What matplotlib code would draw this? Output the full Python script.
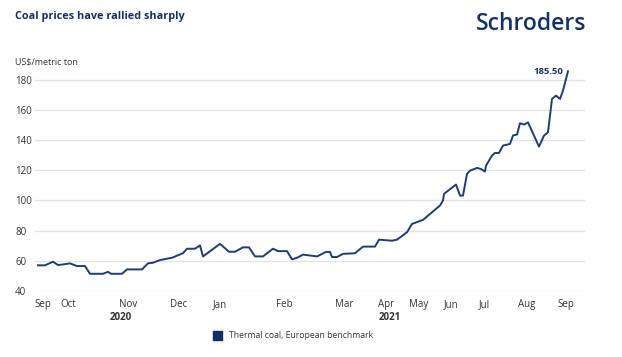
import matplotlib
matplotlib.use('Agg')
import matplotlib.pyplot as plt
from matplotlib.patches import Rectangle

# precio del carbon termico (indice europeo), x en semanas desde inicio sep 2020
semanas = [0.0, 0.7, 1.5, 2.0, 2.5, 3.2, 3.9, 4.7, 5.2, 6.5, 7.0, 7.3, 8.4, 8.9,
           10.4, 11.0, 11.5, 12.2, 12.9, 13.4, 13.9, 14.5, 14.9, 15.7, 16.2, 16.5,
           18.2, 19.1, 19.7, 20.5, 21.1, 21.7, 22.5, 23.5, 24.0, 24.9, 25.4, 25.9,
           26.5, 27.9, 28.8, 29.2, 29.4, 29.9, 30.5, 31.7, 32.5, 33.7, 34.1, 35.4,
           35.9, 36.9, 37.4, 38.5, 39.2, 40.2, 40.5, 40.6, 41.8, 42.2, 42.5, 42.9,
           43.2, 43.9, 44.3, 44.7, 44.8, 45.4, 45.7, 46.1, 46.5, 47.2, 47.5, 47.9,
           48.2, 48.6, 49.0, 50.1, 50.6, 51.0, 51.4, 51.8, 52.2, 52.5, 53.0]
precio = [57.0, 57.0, 59.4, 57.2, 57.6, 58.3, 56.5, 56.5, 51.4, 51.4, 52.7, 51.4, 51.4, 54.3,
          54.3, 58.3, 58.7, 60.5, 61.4, 62.0, 63.4, 65.0, 68.0, 68.0, 70.2, 62.9,
          71.2, 66.0, 66.0, 68.9, 68.9, 62.9, 62.9, 68.0, 66.4, 66.4, 61.0, 62.0,
          64.1, 62.9, 65.9, 65.9, 62.5, 62.5, 64.6, 65.0, 69.4, 69.4, 74.0, 73.3,
          74.0, 78.9, 84.4, 87.1, 91.0, 96.6, 99.9, 104.3, 110.5, 103.2, 103.2, 117.5,
          119.7, 121.5, 120.8, 119.1, 123.0, 129.7, 131.4, 131.4, 136.3, 137.4, 143.0, 143.6,
          151.1, 150.2, 151.7, 135.6, 142.9, 145.1, 167.2, 169.4, 167.2, 172.7, 185.5]

meses = ['Sep', 'Oct', 'Nov', 'Dec', 'Jan', 'Feb', 'Mar', 'Apr', 'May', 'Jun', 'Jul', 'Aug', 'Sep']
pos_meses = [0.5, 3.0, 9.0, 14.1, 18.2, 24.6, 30.6, 34.8, 38.1, 41.3, 44.6, 48.9, 52.8]
anios = ['2020', '2021']
pos_anios = [8.3, 35.2]
yticks = [40, 60, 80, 100, 120, 140, 160, 180]

AZUL = '#1d3c78'
AZUL_OSC = '#13306b'
GRIS = '#333333'

plt.rcParams['font.family'] = ['Open Sans', 'DejaVu Sans']

fig = plt.figure(figsize=(6.22, 3.57), dpi=100)
ax = fig.add_axes([35 / 622, 66 / 357, 550 / 622, 225 / 357])

ax.plot(semanas, precio, color=AZUL, lw=1.4, solid_joinstyle='round')

ax.set_xlim(-0.3, 54.7)
ax.set_ylim(40, 189)
ax.set_yticks(yticks)
ax.set_yticklabels([str(v) for v in yticks], ha='left', fontsize=7, color=GRIS)
ax.tick_params(axis='y', length=0, pad=14.4)
ax.set_xticks(pos_meses)
ax.set_xticklabels(meses, fontsize=7, color=GRIS)
ax.tick_params(axis='x', length=0, pad=6)
ax.grid(axis='y', color='#e3e3e3', lw=0.9)
ax.set_axisbelow(True)
for s in ax.spines.values():
    s.set_visible(False)

for a, p in zip(anios, pos_anios):
    ax.text(p, -0.12, a, transform=ax.get_xaxis_transform(), ha='center', va='center',
            fontsize=7, fontweight='bold', color=GRIS)

# anotacion del ultimo valor
ax.annotate(f'{precio[-1]:.2f}', (semanas[-1], precio[-1]), xytext=(-14, 0),
            textcoords='offset points', ha='center', va='center',
            fontsize=6.8, fontweight='bold', color=AZUL_OSC)

# titulos y logo
fig.text(15 / 622, 1 - 17 / 357, 'Coal prices have rallied sharply', ha='left', va='center',
         fontsize=7.8, fontweight='bold', color=AZUL_OSC)
fig.text(531 / 622, 1 - 24 / 357, 'Schroders', ha='center', va='center',
         fontsize=16.5, fontweight='semibold', color=AZUL_OSC)
fig.text(15 / 622, 1 - 62 / 357, 'US$/metric ton', ha='left', va='center',
         fontsize=6.5, color=GRIS)

# leyenda
fig.patches.append(Rectangle((213 / 622, 1 - 340 / 357), 9 / 622, 9 / 357,
                             transform=fig.transFigure, color=AZUL_OSC))
fig.text(229 / 622, 1 - 336 / 357, 'Thermal coal, European benchmark', ha='left', va='center',
         fontsize=6.2, color=GRIS)

fig.savefig('out.png', dpi=100)
